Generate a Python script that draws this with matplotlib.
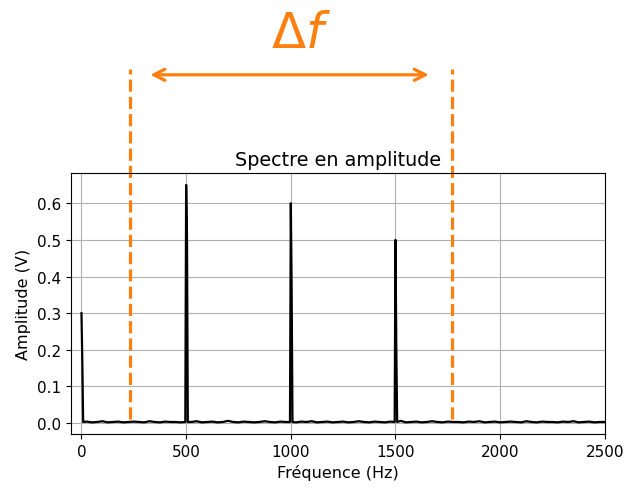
import numpy as np
import matplotlib
matplotlib.use("Agg")
import matplotlib.pyplot as plt
import matplotlib.transforms as mtransforms

# spectrum peaks (Hz, V) and the leakage bin just after each peak
peak_freqs = [0, 500, 1000, 1500]
peak_amps = [0.30, 0.65, 0.60, 0.50]
side_amps = [0.17, 0.51, 0.36, 0.20]
bin_hz = 4

# noise floor, one value every 25 Hz from 0 to 2500 Hz
noise_step = 25
noise = [0.003, 0.004, 0.002, 0.003, 0.005, 0.002, 0.003, 0.004, 0.002, 0.003,
         0.004, 0.003, 0.002, 0.005, 0.003, 0.002, 0.004, 0.003, 0.003, 0.002,
         0.004, 0.003, 0.005, 0.002, 0.003, 0.004, 0.002, 0.003, 0.006, 0.003,
         0.002, 0.004, 0.003, 0.002, 0.003, 0.005, 0.003, 0.002, 0.004, 0.003,
         0.003, 0.002, 0.004, 0.003, 0.005, 0.002, 0.003, 0.004, 0.002, 0.003,
         0.004, 0.002, 0.003, 0.005, 0.003, 0.002, 0.004, 0.003, 0.002, 0.004,
         0.003, 0.006, 0.002, 0.003, 0.004, 0.002, 0.003, 0.005, 0.003, 0.002,
         0.004, 0.003, 0.003, 0.002, 0.004, 0.003, 0.005, 0.002, 0.003, 0.004,
         0.002, 0.003, 0.004, 0.003, 0.002, 0.005, 0.003, 0.002, 0.004, 0.003,
         0.003, 0.002, 0.004, 0.003, 0.005, 0.002, 0.003, 0.004, 0.002, 0.003,
         0.003]

# hand-drawn annotation (x in Hz, y in figure fraction)
delta_lines_hz = [234, 1769]
arrow_hz = [315, 1673]

# build the line: noise points away from the peaks + the peaks themselves
pts = []
for i, a in enumerate(noise):
    f = i * noise_step
    if min(abs(f - p) for p in peak_freqs) > 2 * bin_hz:
        pts.append((f, a))
for f, a, s in zip(peak_freqs, peak_amps, side_amps):
    if f - bin_hz >= 0:
        pts.append((f - bin_hz, 0.003))
    pts.append((f, a))
    pts.append((f + bin_hz, s))
    pts.append((f + 2 * bin_hz, 0.003))
pts.sort()
freq = np.array([p[0] for p in pts])
amp = np.array([p[1] for p in pts])

fig = plt.figure(figsize=(6.34, 4.89), dpi=100)
ax = fig.add_axes([0.112, 0.110, 0.842, 0.534])
ax.plot(freq, amp, color='black', lw=1.6)
ax.set_xlim(-50, 2500)
ax.grid(True)
ax.tick_params(labelsize=11)
ax.set_title("Spectre en amplitude", fontsize=13.8)
ax.set_xlabel("Fréquence (Hz)", fontsize=11.5)
ax.set_ylabel("Amplitude (V)", fontsize=11.5)

orange = '#ff7f0e'
trans = mtransforms.blended_transform_factory(ax.transData, fig.transFigure)
for x in delta_lines_hz:
    ax.plot([x, x], [0.141, 0.857], transform=trans, color=orange, lw=2.3,
            dashes=(3.8, 1.6), clip_on=False)
ax.annotate('', xy=(arrow_hz[0], 0.845), xytext=(arrow_hz[1], 0.845),
            xycoords=trans, textcoords=trans,
            arrowprops=dict(arrowstyle='<->', color=orange, lw=2.3,
                            mutation_scale=20))
ax.text(1047, 0.93, r'$\Delta f$', transform=trans, color=orange,
        fontsize=36, ha='center', va='center')

fig.savefig("out.png", dpi=100)
